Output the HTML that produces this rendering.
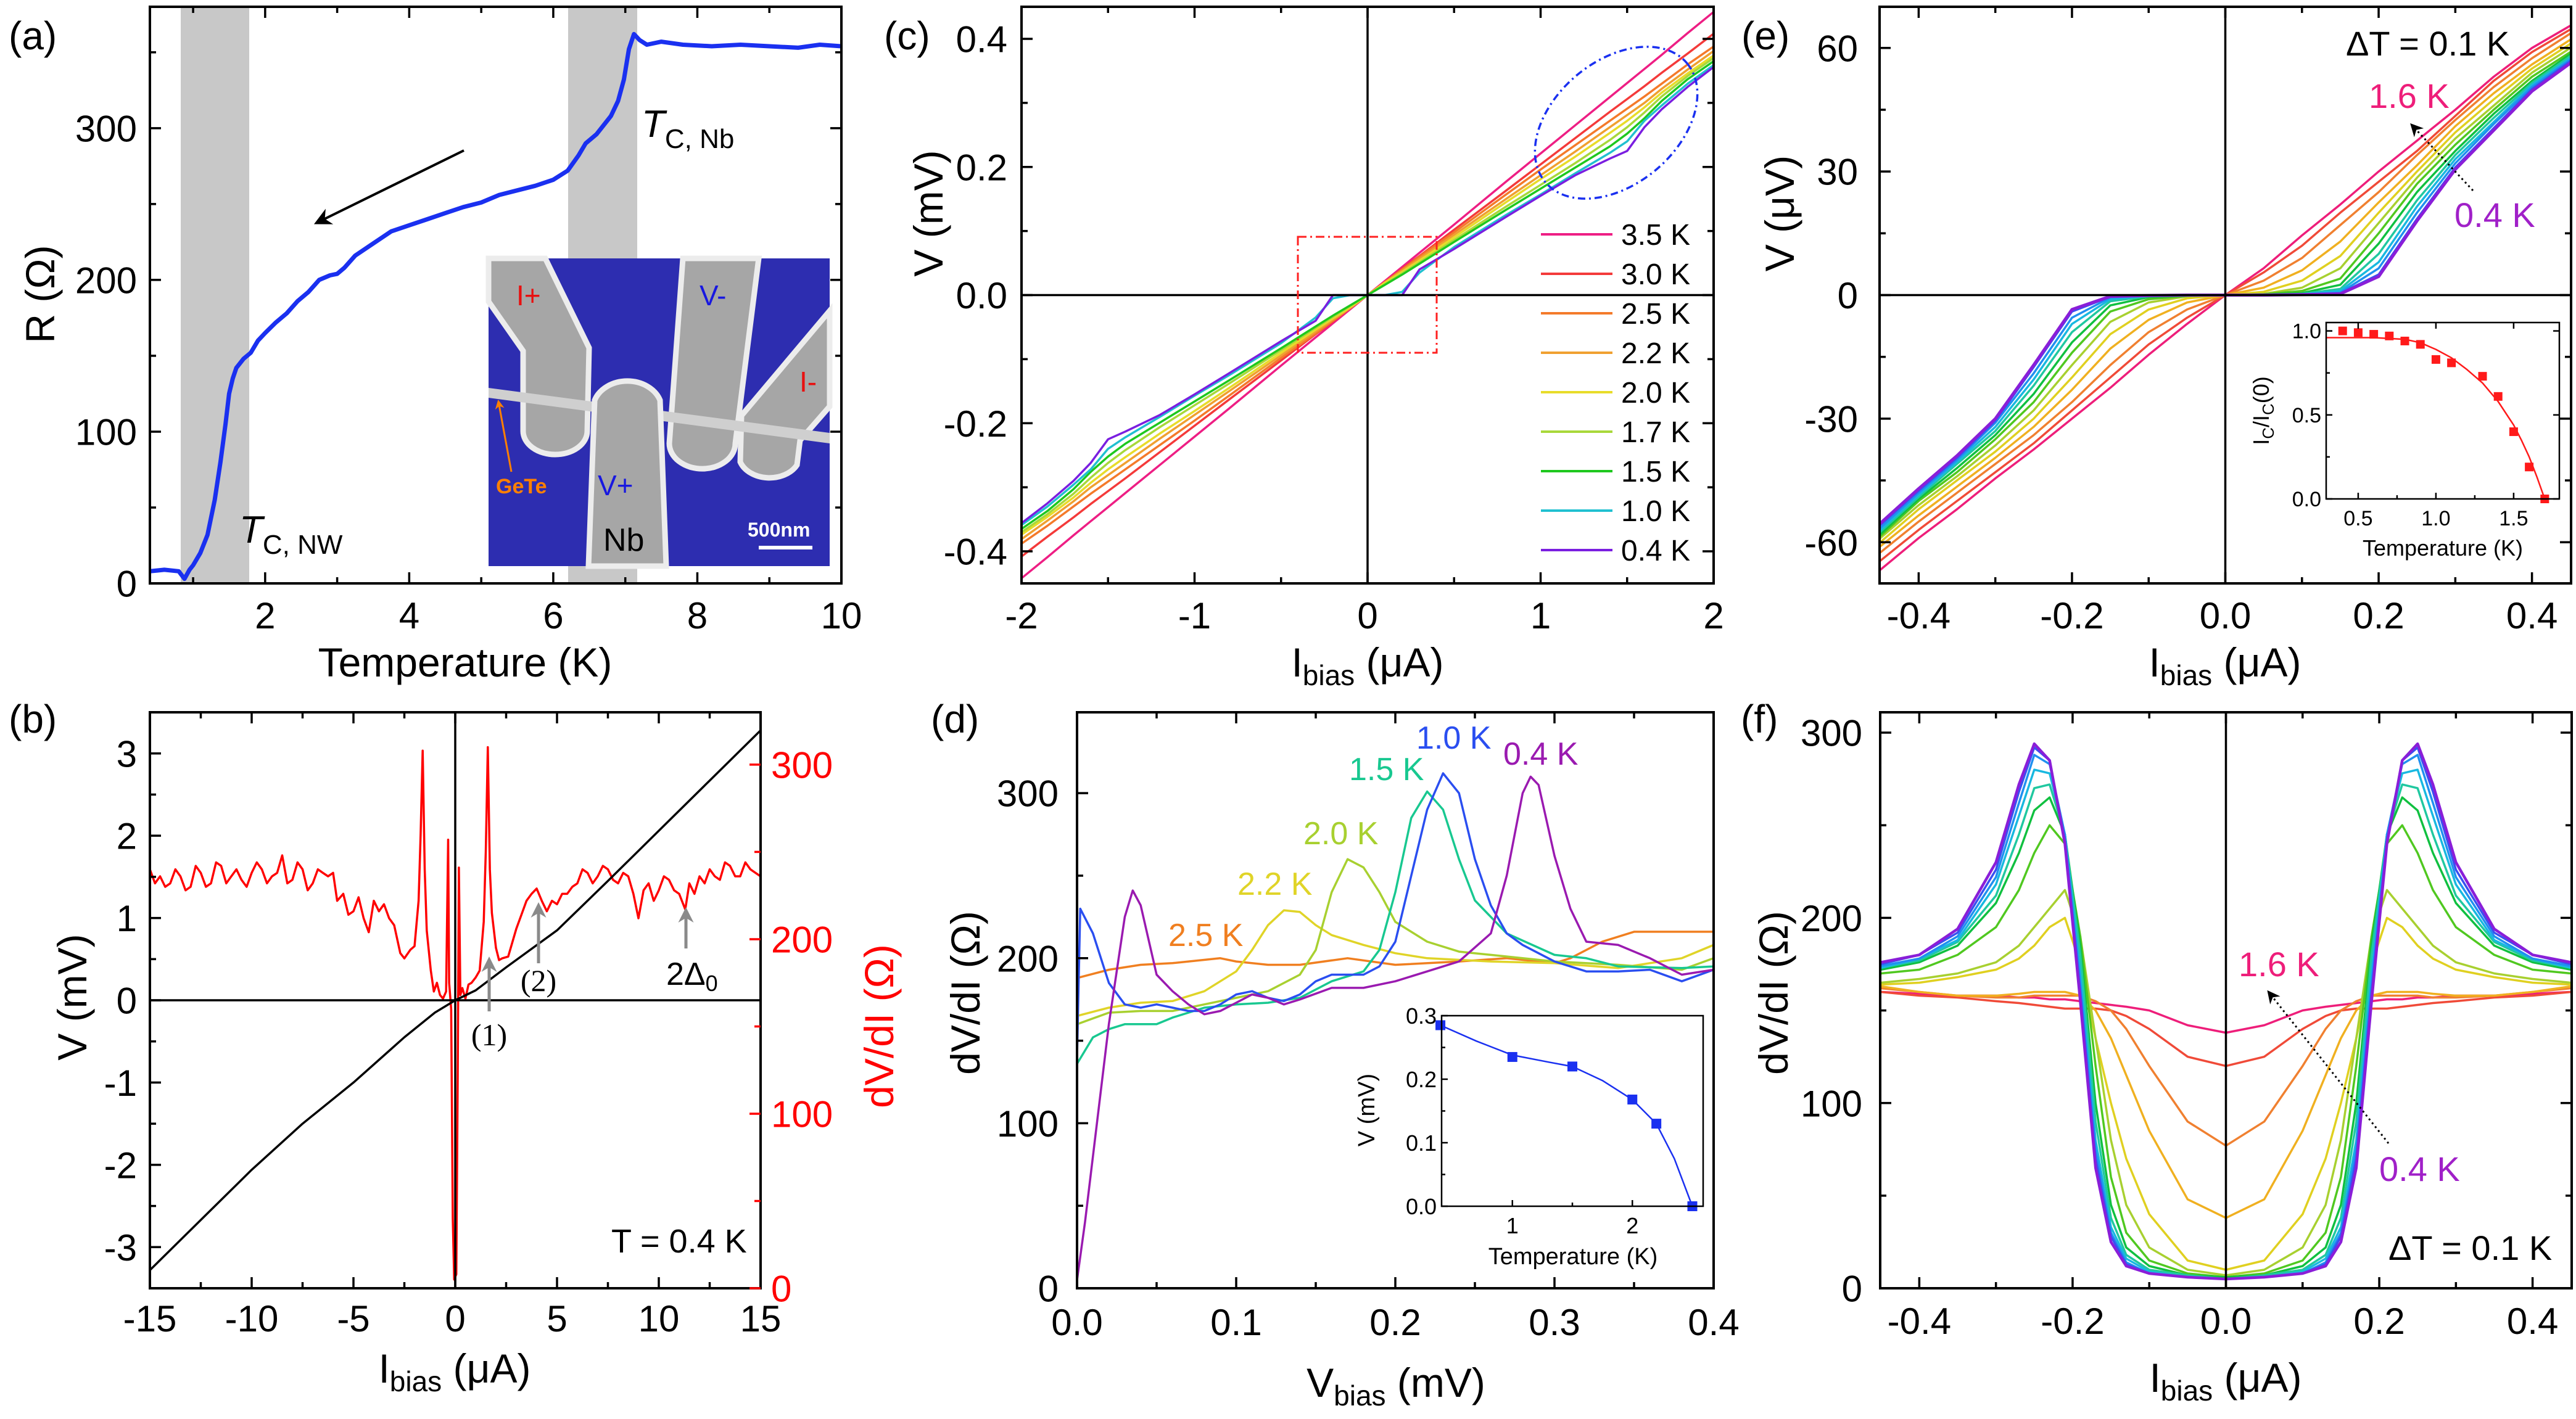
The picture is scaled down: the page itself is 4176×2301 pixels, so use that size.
<!DOCTYPE html>
<html><head><meta charset="utf-8"><title>Figure</title>
<style>
html,body{margin:0;padding:0;background:#fff;}
svg{display:block;font-family:"Liberation Sans",sans-serif;}
</style></head>
<body>
<svg id="fig" xmlns="http://www.w3.org/2000/svg" width="4176" height="2301" viewBox="0 0 4176 2301">
<defs>
<marker id="arrB" viewBox="0 0 10 10" refX="8" refY="5" markerWidth="7" markerHeight="7" orient="auto"><path d="M0,0 L10,5 L0,10 L3,5 Z" fill="#000"/></marker>
<marker id="arrG" viewBox="0 0 10 10" refX="8" refY="5" markerWidth="5" markerHeight="5" orient="auto"><path d="M0,0 L10,5 L0,10 L3,5 Z" fill="#8a8a8a"/></marker>
<marker id="arrO" viewBox="0 0 10 10" refX="8" refY="5" markerWidth="5" markerHeight="5" orient="auto"><path d="M0,0 L10,5 L0,10 L3,5 Z" fill="#ff8000"/></marker>
</defs>
<rect x="0" y="0" width="4176" height="2301" fill="#fff"/>
<g id="bg-layer">
<rect x="293" y="11" width="111" height="935" fill="#c8c8c8"/>
<rect x="921" y="11" width="112" height="935" fill="#c8c8c8"/>
</g>
<g id="marks"></g>
<g id="axes"></g>

<!-- inset SEM image panel a -->
<g transform="translate(792,419)">
<rect x="0" y="0" width="553" height="499" fill="#2d2db0"/>
<path d="M0 0 L92 0 L163 145 L160 280 A52 38 0 0 1 56 280 L56 150 L0 70 Z" fill="#a6a6a6" stroke="#ececec" stroke-width="9"/>
<path d="M315 0 L438 0 L400 300 A52 40 0 0 1 293 300 Z" fill="#a6a6a6" stroke="#ececec" stroke-width="9"/>
<path d="M553 85 L553 240 L505 295 L500 335 A50 38 0 0 1 408 330 L410 255 Z" fill="#a6a6a6" stroke="#ececec" stroke-width="9"/>
<path d="M0 210 L553 283 L553 300 L0 226 Z" fill="#cfcfcf"/>
<path d="M162 499 L172 230 A56 46 0 0 1 278 230 L288 499 Z" fill="#a6a6a6" stroke="#ececec" stroke-width="9"/>
<text x="45" y="76" font-size="46" fill="#e81010">I+</text>
<text x="342" y="76" font-size="46" fill="#1818e0">V-</text>
<text x="504" y="216" font-size="46" fill="#e81010">I-</text>
<text x="177" y="384" font-size="46" fill="#1818e0">V+</text>
<text x="186" y="474" font-size="52" fill="#000">Nb</text>
<text x="12" y="381" font-size="34" font-weight="bold" fill="#ff8000">GeTe</text>
<line x1="37" y1="346" x2="16" y2="232" stroke="#ff8000" stroke-width="3" marker-end="url(#arrO)"/>
<text x="420" y="451" font-size="32" font-weight="bold" fill="#fff">500nm</text>
<rect x="438" y="466" width="87" height="6" fill="#fff"/>
</g>

<!-- panel labels & annotations -->
<g font-size="64">
<text x="14" y="80">(a)</text>
<text x="14" y="1188">(b)</text>
<text x="1433" y="80">(c)</text>
<text x="1509" y="1188">(d)</text>
<text x="2823" y="80">(e)</text>
<text x="2822" y="1188">(f)</text>
</g>
<g font-size="66" text-anchor="middle">
<text x="754" y="1097">Temperature (K)</text>
<text transform="translate(88,477) rotate(-90)">R (Ω)</text>
<text x="737" y="2242">I<tspan font-size="46" dy="14">bias</tspan><tspan dy="-14"> (μA)</tspan></text>
<text transform="translate(140,1617) rotate(-90)">V (mV)</text>
<text transform="translate(1448,1664) rotate(-90)" fill="#ff0000">dV/dI (Ω)</text>
<text x="2217" y="1097">I<tspan font-size="46" dy="14">bias</tspan><tspan dy="-14"> (μA)</tspan></text>
<text transform="translate(1528,346) rotate(-90)">V (mV)</text>
<text x="2263" y="2265">V<tspan font-size="46" dy="14">bias</tspan><tspan dy="-14"> (mV)</tspan></text>
<text transform="translate(1588,1610) rotate(-90)">dV/dI (Ω)</text>
<text x="3607" y="1097">I<tspan font-size="46" dy="14">bias</tspan><tspan dy="-14"> (μA)</tspan></text>
<text transform="translate(2908,346) rotate(-90)">V (μV)</text>
<text x="3608" y="2257">I<tspan font-size="46" dy="14">bias</tspan><tspan dy="-14"> (μA)</tspan></text>
<text transform="translate(2898,1610) rotate(-90)">dV/dI (Ω)</text>
</g>
<g>
<line x1="752" y1="244" x2="514" y2="361" stroke="#000" stroke-width="4" marker-end="url(#arrB)"/>
<text x="1040" y="222" font-size="62"><tspan font-style="italic">T</tspan><tspan font-size="44" dy="18">C, Nb</tspan></text>
<text x="388" y="880" font-size="62"><tspan font-style="italic">T</tspan><tspan font-size="44" dy="18">C, NW</tspan></text>
<line x1="793" y1="1640" x2="793" y2="1556" stroke="#8a8a8a" stroke-width="5" marker-end="url(#arrG)"/>
<text x="793" y="1695" font-size="50" font-family="Liberation Serif, serif" text-anchor="middle">(1)</text>
<line x1="873" y1="1562" x2="873" y2="1468" stroke="#8a8a8a" stroke-width="5" marker-end="url(#arrG)"/>
<text x="873" y="1607" font-size="50" font-family="Liberation Serif, serif" text-anchor="middle">(2)</text>
<line x1="1112" y1="1538" x2="1112" y2="1476" stroke="#8a8a8a" stroke-width="5" marker-end="url(#arrG)"/>
<text x="1080" y="1597" font-size="52">2Δ<tspan font-size="36" dy="10">0</tspan></text>
<text x="991" y="2031" font-size="54">T = 0.4 K</text>
<rect x="2104" y="384" width="225" height="188" fill="none" stroke="#ff2020" stroke-width="3" stroke-dasharray="14,6,3,6"/>
<ellipse cx="2620" cy="199" rx="150" ry="100" transform="rotate(-40 2620 199)" fill="none" stroke="#1a30f0" stroke-width="3.5" stroke-dasharray="12,6,3,6"/>
<text x="3803" y="90" font-size="56">ΔT = 0.1 K</text>
<text x="3840" y="175" font-size="56" fill="#ee1e7a">1.6 K</text>
<text x="3979" y="368" font-size="56" fill="#a020c8">0.4 K</text>
<line x1="4009" y1="309" x2="3910" y2="203" stroke="#000" stroke-width="3" stroke-dasharray="3,5" marker-end="url(#arrB)"/>
<text x="3629" y="1583" font-size="56" fill="#ee1e7a">1.6 K</text>
<text x="3857" y="1915" font-size="56" fill="#a020c8">0.4 K</text>
<text x="3872" y="2043" font-size="56">ΔT = 0.1 K</text>
<line x1="3872" y1="1854" x2="3678" y2="1609" stroke="#000" stroke-width="3" stroke-dasharray="3,5" marker-end="url(#arrB)"/>
<g font-size="52">
<text x="2296" y="1214" fill="#2a4ef0">1.0 K</text>
<text x="2437" y="1240" fill="#9a1ab0">0.4 K</text>
<text x="2187" y="1265" fill="#18c890">1.5 K</text>
<text x="2113" y="1369" fill="#a8d030">2.0 K</text>
<text x="2006" y="1451" fill="#e0d428">2.2 K</text>
<text x="1894" y="1534" fill="#f07f20">2.5 K</text>
</g>
</g>
<g id="insets"></g>
</svg>
<script>
// ---------------- data ----------------
// panel a: R(T)
const aT = [0.4,0.6,0.8,0.88,0.95,1.0,1.1,1.2,1.3,1.38,1.45,1.5,1.55,1.6,1.7,1.8,1.9,2.0,2.15,2.3,2.45,2.6,2.75,2.9,3.0,3.1,3.25,3.5,3.75,4.0,4.25,4.5,4.75,5.0,5.25,5.5,5.75,6.0,6.2,6.35,6.45,6.6,6.8,6.9,6.98,7.05,7.12,7.2,7.3,7.5,7.8,8.2,8.6,9.0,9.4,9.7,10.0];
const aR = [8,9,8,3,9,12,20,32,55,80,105,125,135,142,148,152,160,165,172,178,186,192,200,203,204,208,216,224,232,236,240,244,248,251,256,259,262,266,272,282,290,296,308,318,332,352,362,358,355,357,355,354,355,354,353,355,354];
// panel b
const bIV = [[-15,-3.28],[-12.5,-2.67],[-10,-2.06],[-7.5,-1.5],[-5,-1.0],[-2.5,-0.45],[-1,-0.15],[0,0],[1,0.12],[2.5,0.4],[5,0.85],[7.5,1.45],[10,2.06],[12.5,2.67],[15,3.28]];
const bDVDI = [[-15,240],[-14.75,232],[-14.5,236],[-14.25,230],[-14,232],[-13.75,240],[-13.5,236],[-13.25,228],[-13,230],[-12.75,242],[-12.5,238],[-12.25,230],[-12,232],[-11.75,244],[-11.5,242],[-11.25,232],[-11,236],[-10.75,240],[-10.5,234],[-10.25,230],[-10,238],[-9.75,244],[-9.5,240],[-9.25,232],[-9,236],[-8.75,238],[-8.5,248],[-8.25,232],[-8,234],[-7.75,244],[-7.5,240],[-7.25,228],[-7,232],[-6.75,240],[-6.5,238],[-6.25,236],[-6,238],[-5.8,222],[-5.5,226],[-5.25,214],[-5,216],[-4.75,224],[-4.5,212],[-4.25,204],[-4,222],[-3.75,216],[-3.5,220],[-3.25,212],[-3,208],[-2.7,192],[-2.5,189],[-2.2,194],[-2,196],[-1.8,222],[-1.7,260],[-1.6,308],[-1.5,240],[-1.4,205],[-1.2,182],[-1.05,170],[-0.9,175],[-0.75,168],[-0.6,166],[-0.45,170],[-0.35,257],[-0.3,175],[-0.2,160],[-0.12,40],[-0.05,5],[0.05,8],[0.12,120],[0.18,241],[0.25,168],[0.35,172],[0.5,166],[0.65,174],[0.8,175],[1.0,178],[1.2,182],[1.4,210],[1.5,250],[1.6,310],[1.7,240],[1.8,215],[2.0,195],[2.15,188],[2.3,189],[2.6,190],[2.8,198],[3.0,206],[3.25,214],[3.5,222],[3.75,226],[4.0,229],[4.25,222],[4.5,216],[4.75,222],[5.0,220],[5.25,226],[5.5,226],[5.75,230],[6,232],[6.25,240],[6.5,238],[6.75,232],[7,236],[7.25,242],[7.5,240],[7.75,234],[8,232],[8.25,238],[8.5,236],[8.75,226],[9,212],[9.25,228],[9.5,232],[9.75,222],[10,228],[10.25,236],[10.5,234],[10.75,228],[11,226],[11.3,217],[11.5,232],[11.75,226],[12,236],[12.25,232],[12.5,240],[12.75,236],[13,234],[13.25,244],[13.5,242],[13.75,236],[14,236],[14.25,244],[14.5,240],[14.75,238],[15,236]];
// panel c
const cI = [0,0.1,0.2,0.3,0.5,0.8,1.0,1.2,1.4,1.5,1.6,1.7,1.85,2.0];
const cV35 = [0,0.022,0.044,0.066,0.11,0.177,0.221,0.265,0.309,0.331,0.353,0.375,0.409,0.442];
const cV30 = [0,0.02,0.041,0.061,0.102,0.163,0.204,0.245,0.286,0.306,0.326,0.347,0.377,0.408];
const cV25 = [0,0.02,0.04,0.06,0.098,0.157,0.196,0.234,0.272,0.291,0.31,0.33,0.36,0.388];
const cV22 = [0,0.02,0.038,0.057,0.094,0.15,0.187,0.224,0.262,0.281,0.3,0.322,0.352,0.381];
const cV20 = [0,0.019,0.036,0.054,0.09,0.145,0.181,0.216,0.253,0.272,0.293,0.316,0.346,0.374];
const cV17 = [0,0.017,0.034,0.051,0.086,0.138,0.172,0.206,0.242,0.262,0.285,0.31,0.342,0.370];
const cV15 = [0,0.016,0.032,0.049,0.083,0.133,0.166,0.199,0.232,0.252,0.276,0.303,0.337,0.365];
const cV10 = [0,0,0.005,0.035,0.075,0.125,0.157,0.19,0.222,0.24,0.272,0.296,0.33,0.359];
const cV04 = [0,0,0,0.04,0.072,0.122,0.155,0.187,0.213,0.225,0.262,0.29,0.325,0.356];
const cLegend = ['3.5 K','3.0 K','2.5 K','2.2 K','2.0 K','1.7 K','1.5 K','1.0 K','0.4 K'];
// panel d
const dV40 = [[0,5],[0.005,40],[0.01,80],[0.02,160],[0.03,225],[0.035,241],[0.04,232],[0.05,190],[0.06,180],[0.07,172],[0.08,166],[0.09,168],[0.1,173],[0.11,178],[0.12,176],[0.13,172],[0.14,175],[0.16,182],[0.18,182],[0.2,186],[0.22,192],[0.24,198],[0.26,215],[0.27,250],[0.28,300],[0.285,310],[0.29,305],[0.3,262],[0.31,230],[0.32,210],[0.34,208],[0.36,200],[0.38,190],[0.4,193]];
const dV10 = [[0,140],[0.002,230],[0.01,215],[0.02,185],[0.03,172],[0.04,170],[0.05,172],[0.06,170],[0.07,168],[0.08,168],[0.09,172],[0.1,178],[0.11,180],[0.12,176],[0.13,174],[0.14,178],[0.15,186],[0.16,190],[0.18,190],[0.19,195],[0.2,210],[0.21,250],[0.22,290],[0.23,312],[0.24,300],[0.25,260],[0.26,232],[0.27,215],[0.28,208],[0.3,198],[0.32,192],[0.34,192],[0.36,193],[0.38,186],[0.4,193]];
const dV15 = [[0,136],[0.01,152],[0.02,157],[0.03,160],[0.05,160],[0.06,164],[0.08,170],[0.1,172],[0.12,173],[0.14,176],[0.16,186],[0.18,192],[0.19,205],[0.2,240],[0.21,285],[0.22,301],[0.23,290],[0.24,260],[0.25,235],[0.27,215],[0.3,202],[0.32,200],[0.34,195],[0.38,194],[0.4,195]];
const dV20 = [[0,160],[0.02,167],[0.04,168],[0.06,168],[0.08,172],[0.1,176],[0.12,180],[0.14,190],[0.15,205],[0.16,240],[0.17,260],[0.18,255],[0.19,240],[0.2,222],[0.22,210],[0.24,204],[0.26,202],[0.3,198],[0.34,196],[0.38,193],[0.4,200]];
const dV22 = [[0,165],[0.02,170],[0.04,173],[0.06,174],[0.08,180],[0.1,192],[0.11,205],[0.12,220],[0.13,229],[0.14,228],[0.15,220],[0.16,214],[0.18,208],[0.2,203],[0.22,200],[0.26,198],[0.3,197],[0.34,194],[0.38,200],[0.4,208]];
const dV25 = [[0,188],[0.02,193],[0.04,196],[0.06,197],[0.09,200],[0.1,198],[0.12,196],[0.14,196],[0.17,200],[0.2,196],[0.24,198],[0.27,200],[0.3,197],[0.31,200],[0.33,210],[0.35,216],[0.37,216],[0.4,216]];
const dInsetT = [0.4,1.0,1.5,2.0,2.2,2.5];
const dInsetV = [0.285,0.235,0.22,0.168,0.13,0.0];
const dFitT = [0.4,0.7,1.0,1.3,1.5,1.75,2.0,2.2,2.35,2.5];
const dFitV = [0.285,0.26,0.238,0.227,0.22,0.198,0.168,0.13,0.075,0];
// panel e
const eI = [-0.45,-0.4,-0.35,-0.3,-0.25,-0.2,-0.15,-0.1,-0.05,0,0.05,0.1,0.15,0.2,0.25,0.3,0.35,0.4,0.45];
const eV04 = [-55.4,-47,-39,-30,-17,-3.5,-0.3,-0.1,0,0,0,0.1,0.3,4.5,18,30.5,40,49.5,56.3];
const eV05 = [-55.8,-47.5,-39.5,-30.5,-17.5,-4,-0.4,-0.1,0,0,0,0.1,0.4,5,18.5,31,40.5,50,56.8];
const eV06 = [-56.5,-48,-40,-31,-19,-5.5,-0.6,-0.1,0,0,0,0.1,0.6,6.5,20,32,41.5,50.5,57.2];
const eV07 = [-57,-48.5,-40.5,-32,-20.5,-7,-1,-0.2,0,0,0,0.2,1,8,21.5,33,42,51,57.5];
const eV08 = [-57.5,-49,-41,-33,-22,-9,-1.5,-0.3,0,0,0,0.3,1.5,10,23,34,43,51.5,58];
const eV09 = [-58,-49.5,-42,-34,-24,-11.5,-2.5,-0.5,-0.1,0,0.1,0.5,2.5,12.5,25,35,44,52,58.5];
const eV10 = [-58.5,-50,-43,-35,-26,-14,-4,-1,-0.2,0,0.2,1,4,15,27,36.5,45,53,59];
const eV11 = [-59,-51,-44,-36.5,-28,-17,-6.5,-1.8,-0.3,0,0.3,1.8,6.5,17.5,28.5,38,46,54,60];
const eV12 = [-60,-52,-45,-38,-30,-20,-9.5,-3.5,-0.8,0,0.8,3.5,9.5,20,30,39.5,47.5,55,61];
const eV13 = [-61,-53.5,-46.5,-39.5,-32,-23,-13,-6,-1.8,0,1.8,6,13,22.5,31.5,41,49,56,62];
const eV14 = [-62.5,-55,-48,-41,-34,-26,-17,-9,-3.5,0,3.5,9,17,25,34,42.5,50.5,57.5,63.5];
const eV15 = [-64.5,-57,-50,-43,-36,-28,-20,-12,-5.5,0,5.5,12,20,27.5,35,43.5,52,59,64.5];
const eV16 = [-66.7,-59,-52,-44.5,-37.5,-30,-22.5,-14.5,-7,0,6.5,14.5,22,30,37.5,45,53,60,65.4];
const eInsetT = [0.4,0.5,0.6,0.7,0.8,0.9,1.0,1.1,1.3,1.4,1.5,1.6,1.7];
const eInsetR = [1.0,0.99,0.98,0.97,0.94,0.92,0.83,0.81,0.73,0.61,0.40,0.19,0.0];
const eFitT = [0.3,0.6,0.8,0.9,1.0,1.1,1.2,1.3,1.4,1.5,1.55,1.6,1.65,1.7];
const eFitR = [0.96,0.96,0.95,0.93,0.89,0.84,0.77,0.69,0.58,0.44,0.35,0.25,0.13,0];
// panel f (positive side; mirrored for negative bias)
const fI = [0,0.05,0.1,0.13,0.15,0.17,0.19,0.21,0.23,0.25,0.27,0.3,0.35,0.4,0.45];
const fR04 = [5,6,8,12,25,65,155,240,285,294,272,230,194,180,176];
const fR05 = [5,6,8,13,28,70,160,242,285,292,268,226,192,180,175];
const fR06 = [5,6,8,14,30,75,165,245,283,288,262,222,190,178,174];
const fR07 = [5,6,9,16,33,80,170,245,278,280,255,218,188,178,173];
const fR08 = [5,7,10,18,38,90,180,245,272,270,245,212,187,177,173];
const fR09 = [6,7,12,22,45,100,185,245,265,258,235,208,185,176,172];
const fR10 = [6,8,15,30,60,120,190,240,250,235,215,195,180,172,170];
const fR11 = [7,10,22,45,80,135,190,215,205,195,185,176,170,167,165];
const fR12 = [10,15,40,70,100,135,175,200,195,185,178,172,168,165,164];
const fR13 = [38,48,85,115,135,150,158,160,160,160,159,158,158,160,163];
const fR14 = [77,90,120,140,150,155,158,158,158,158,157,157,158,160,162];
const fR15 = [120,125,140,147,150,151,151,151,152,153,154,155,157,158,160];
const fR16 = [138,142,150,152,153,154,155,156,156,157,157,158,158,159,160];

// ---------------- helpers ----------------
const NS = 'http://www.w3.org/2000/svg';
const svg = document.getElementById('fig');
const marks = document.getElementById('marks');
const axG = document.getElementById('axes');
const insG = document.getElementById('insets');
function el(tag, attrs, parent, name) {
  const e = document.createElementNS(NS, tag);
  for (const k in attrs) e.setAttribute(k, attrs[k]);
  
  
  parent.appendChild(e);
  return e;
}
function axes(L, R, T, B, x0, x1, y0, y1) {
  return {L, R, T, B, sx: v => L + (v - x0) / (x1 - x0) * (R - L), sy: v => B - (v - y0) / (y1 - y0) * (B - T)};
}
function frame(a, name, w) {
  el('rect', {x: a.L, y: a.T, width: a.R - a.L, height: a.B - a.T, fill: 'none', stroke: '#000', 'stroke-width': w || 4}, axG, name);
}
function xticks(a, vals, len, top, name, col) {
  vals.forEach(v => {
    const x = a.sx(v);
    el('line', {x1: x, x2: x, y1: a.B, y2: a.B - len, stroke: col || '#000', 'stroke-width': 3.5}, axG, name);
    if (top) el('line', {x1: x, x2: x, y1: a.T, y2: a.T + len, stroke: col || '#000', 'stroke-width': 3.5}, axG, name + '-top');
  });
}
function yticks(a, vals, len, left, right, name, col, ay) {
  const sy = ay || a;
  vals.forEach(v => {
    const y = sy.sy(v);
    if (left) el('line', {x1: a.L, x2: a.L + len, y1: y, y2: y, stroke: col || '#000', 'stroke-width': 3.5}, axG, name);
    if (right) el('line', {x1: a.R, x2: a.R - len, y1: y, y2: y, stroke: col || '#000', 'stroke-width': 3.5}, axG, name + '-right');
  });
}
function xlabels(a, vals, labels, y, size, name) {
  vals.forEach((v, i) => {
    const t = el('text', {x: a.sx(v), y: y, 'font-size': size, 'text-anchor': 'middle'}, axG, name);
    t.textContent = labels[i];
  });
}
function ylabels(a, vals, labels, x, size, name, col, anchor) {
  vals.forEach((v, i) => {
    const t = el('text', {x: x, y: a.sy(v) + size * 0.36, 'font-size': size, 'text-anchor': anchor || 'end', fill: col || '#000'}, axG, name);
    t.textContent = labels[i];
  });
}
function poly(a, xs, ys, color, w, name, parent) {
  const pts = xs.map((x, i) => a.sx(x).toFixed(1) + ',' + a.sy(ys[i]).toFixed(1)).join(' ');
  return el('polyline', {points: pts, fill: 'none', stroke: color, 'stroke-width': w, 'stroke-linejoin': 'round', 'stroke-linecap': 'round'}, parent || marks, name);
}
function pairs(a, p, color, w, name, parent) {
  return poly(a, p.map(q => q[0]), p.map(q => q[1]), color, w, name, parent);
}
function hline(a, v, name) { el('line', {x1: a.L, x2: a.R, y1: a.sy(v), y2: a.sy(v), stroke: '#000', 'stroke-width': 3.5}, axG, name); }
function vline(a, v, name) { el('line', {x1: a.sx(v), x2: a.sx(v), y1: a.T, y2: a.B, stroke: '#000', 'stroke-width': 3.5}, axG, name); }
function clip(a, id) {
  const d = svg.querySelector('defs');
  const c = el('clipPath', {id: id}, d, id);
  el('rect', {x: a.L, y: a.T, width: a.R - a.L, height: a.B - a.T}, c, id + '-rect');
  const g = el('g', {'clip-path': 'url(#' + id + ')'}, marks, id + '-group');
  return g;
}
const TS = 60, MJ = 18, MN = 10;

// ---------------- panel a ----------------
const A = axes(243, 1364, 11, 946, 0.4, 10, 0, 380);
const gA = clip(A, 'clip-a');
poly(A, aT, aR, '#1a30f0', 7, 'resistance-curve', gA);
frame(A, 'a-plot-frame');
xticks(A, [2,4,6,8,10], MJ, true, 'a-x-major-tick');
xticks(A, [1,3,5,7,9], MN, true, 'a-x-minor-tick');
yticks(A, [0,100,200,300], MJ, true, true, 'a-y-major-tick');
yticks(A, [50,150,250,350], MN, true, true, 'a-y-minor-tick');
xlabels(A, [2,4,6,8,10], ['2','4','6','8','10'], 1019, TS, 'a-x-tick-label');
ylabels(A, [0,100,200,300], ['0','100','200','300'], 222, TS, 'a-y-tick-label');

// ---------------- panel b ----------------
const B = axes(243, 1233, 1155, 2089, -15, 15, -3.5, 3.5);
const BR = axes(243, 1233, 1155, 2089, -15, 15, 0, 330);
const gB = clip(B, 'clip-b');
hline(B, 0, 'b-zero-line');
vline(B, 0, 'b-zero-vline');
pairs(BR, bDVDI, '#ff0000', 3.5, 'dvdi-curve', gB);
pairs(B, bIV, '#000', 3.5, 'iv-curve', gB);
frame(B, 'b-plot-frame');
xticks(B, [-15,-10,-5,0,5,10,15], MJ, true, 'b-x-major-tick');
xticks(B, [-12.5,-7.5,-2.5,2.5,7.5,12.5], MN, true, 'b-x-minor-tick');
yticks(B, [-3,-2,-1,0,1,2,3], MJ, true, false, 'b-y-major-tick');
yticks(B, [-2.5,-1.5,-0.5,0.5,1.5,2.5], MN, true, false, 'b-y-minor-tick');
yticks(B, [0,100,200,300], MJ, false, true, 'b-right-major-tick', '#ff0000', BR);
yticks(B, [50,150,250], MN, false, true, 'b-right-minor-tick', '#ff0000', BR);
xlabels(B, [-15,-10,-5,0,5,10,15], ['-15','-10','-5','0','5','10','15'], 2159, TS, 'b-x-tick-label');
ylabels(B, [-3,-2,-1,0,1,2,3], ['-3','-2','-1','0','1','2','3'], 222, TS, 'b-y-tick-label');
ylabels(BR, [0,100,200,300], ['0','100','200','300'], 1250, TS, 'b-right-tick-label', '#ff0000', 'start');

// ---------------- panel c ----------------
const C = axes(1656, 2778, 11, 946, -2, 2, -0.45, 0.45);
const gC = clip(C, 'clip-c');
hline(C, 0, 'c-zero-line');
vline(C, 0, 'c-zero-vline');
const cSeries = [cV35, cV30, cV25, cV22, cV20, cV17, cV15, cV10, cV04];
const cColors = ['#ee1e84', '#f43a3a', '#f47a2a', '#f0a030', '#e8dc2a', '#a8d83a', '#1ec81e', '#20c0d0', '#7a1ee0'];
cSeries.forEach((s, i) => {
  const xs = cI.slice().reverse().map(v => -v).concat(cI.slice(1));
  const ys = s.slice().reverse().map(v => -v).concat(s.slice(1));
  const pl = poly(C, xs, ys, cColors[i], 3.5, 'iv-curve', gC);
  
});
frame(C, 'c-plot-frame');
xticks(C, [-2,-1,0,1,2], MJ, true, 'c-x-major-tick');
xticks(C, [-1.5,-0.5,0.5,1.5], MN, true, 'c-x-minor-tick');
yticks(C, [-0.4,-0.2,0,0.2,0.4], MJ, true, true, 'c-y-major-tick');
yticks(C, [-0.3,-0.1,0.1,0.3], MN, true, true, 'c-y-minor-tick');
xlabels(C, [-2,-1,0,1,2], ['-2','-1','0','1','2'], 1019, TS, 'c-x-tick-label');
ylabels(C, [-0.4,-0.2,0,0.2,0.4], ['-0.4','-0.2','0.0','0.2','0.4'], 1633, TS, 'c-y-tick-label');
cLegend.forEach((lab, i) => {
  const y = 380 + i * 64;
  el('line', {x1: 2498, x2: 2614, y1: y, y2: y, stroke: cColors[i], 'stroke-width': 4}, axG, 'legend-swatch');
  const t = el('text', {x: 2628, y: y + 17, 'font-size': 48}, axG, 'legend-entry');
  t.textContent = lab;
});

// ---------------- panel d ----------------
const D = axes(1746, 2778, 1155, 2089, 0, 0.4, 0, 349);
const gD = clip(D, 'clip-d');
const dSeries = [dV25, dV22, dV20, dV15, dV10, dV40];
const dColors = ['#f07f20', '#e0d428', '#a8d030', '#18c890', '#2a4ef0', '#9a1ab0'];
const dNames = ['dvdi-2p5k', 'dvdi-2p2k', 'dvdi-2p0k', 'dvdi-1p5k', 'dvdi-1p0k', 'dvdi-0p4k'];
dSeries.forEach((s, i) => {
  const pl = pairs(D, s, dColors[i], 3.5, 'dvdi-curve', gD);
  
});
frame(D, 'd-plot-frame');
xticks(D, [0,0.1,0.2,0.3,0.4], MJ, true, 'd-x-major-tick');
xticks(D, [0.05,0.15,0.25,0.35], MN, true, 'd-x-minor-tick');
yticks(D, [0,100,200,300], MJ, true, false, 'd-y-major-tick');
yticks(D, [50,150,250], MN, true, false, 'd-y-minor-tick');
xlabels(D, [0,0.1,0.2,0.3,0.4], ['0.0','0.1','0.2','0.3','0.4'], 2165, TS, 'd-x-tick-label');
ylabels(D, [0,100,200,300], ['0','100','200','300'], 1716, TS, 'd-y-tick-label');
// inset d
const DI = axes(2337, 2761, 1647, 1956, 0.41, 2.59, 0, 0.3);
el('rect', {x: DI.L, y: DI.T, width: DI.R - DI.L, height: DI.B - DI.T, fill: '#fff'}, insG, 'd-inset-background');
poly(DI, dFitT, dFitV, '#1a30f0', 2.5, 'd-inset-fit', insG);
dInsetT.forEach((t, i) => {
  el('rect', {x: DI.sx(t) - 8, y: DI.sy(dInsetV[i]) - 8, width: 16, height: 16, fill: '#1a30f0'}, insG, 'd-inset-point');
});
el('rect', {x: DI.L, y: DI.T, width: DI.R - DI.L, height: DI.B - DI.T, fill: 'none', stroke: '#000', 'stroke-width': 2.5}, insG, 'd-inset-frame');
[1, 2].forEach(v => { el('line', {x1: DI.sx(v), x2: DI.sx(v), y1: DI.B, y2: DI.B - 10, stroke: '#000', 'stroke-width': 2.5}, insG, 'd-inset-x-tick'); });
[1.5].forEach(v => { el('line', {x1: DI.sx(v), x2: DI.sx(v), y1: DI.B, y2: DI.B - 6, stroke: '#000', 'stroke-width': 2.5}, insG, 'd-inset-x-minor-tick'); });
[0, 0.1, 0.2, 0.3].forEach(v => { el('line', {x1: DI.L, x2: DI.L + 10, y1: DI.sy(v), y2: DI.sy(v), stroke: '#000', 'stroke-width': 2.5}, insG, 'd-inset-y-tick'); });
[0.05, 0.15, 0.25].forEach(v => { el('line', {x1: DI.L, x2: DI.L + 6, y1: DI.sy(v), y2: DI.sy(v), stroke: '#000', 'stroke-width': 2.5}, insG, 'd-inset-y-minor-tick'); });
[1, 2].forEach(v => { const t = el('text', {x: DI.sx(v), y: 2000, 'font-size': 36, 'text-anchor': 'middle'}, insG, 'd-inset-x-tick-label'); t.textContent = String(v); });
[0, 0.1, 0.2, 0.3].forEach(v => { const t = el('text', {x: DI.L - 8, y: DI.sy(v) + 13, 'font-size': 36, 'text-anchor': 'end'}, insG, 'd-inset-y-tick-label'); t.textContent = v.toFixed(1); });
{ const t = el('text', {x: 2550, y: 2050, 'font-size': 38, 'text-anchor': 'middle'}, insG, 'd-inset-x-title'); t.textContent = 'Temperature (K)'; }
{ const t = el('text', {x: 0, y: 0, 'font-size': 38, 'text-anchor': 'middle', transform: 'translate(2228,1800) rotate(-90)'}, insG, 'd-inset-y-title'); t.textContent = 'V (mV)'; }

// ---------------- panel e ----------------
const E = axes(3047, 4168, 11, 946, -0.451, 0.451, -70, 70);
const gE = clip(E, 'clip-e');
hline(E, 0, 'e-zero-line');
vline(E, 0, 'e-zero-vline');
const efColors = ['#8a1ed8', '#3a50f0', '#2090f0', '#18b8e0', '#20c8a0', '#10c040', '#50c820', '#a8d030', '#e0d020', '#f0b020', '#f08030', '#f04a38', '#ee1e7a'];
const efTemps = ['0p4k','0p5k','0p6k','0p7k','0p8k','0p9k','1p0k','1p1k','1p2k','1p3k','1p4k','1p5k','1p6k'];
const eSeries = [eV04, eV05, eV06, eV07, eV08, eV09, eV10, eV11, eV12, eV13, eV14, eV15, eV16];
for (let i = eSeries.length - 1; i >= 0; i--) {
  const pl = poly(E, eI, eSeries[i], efColors[i], i === 0 ? 5 : 3.5, 'iv-curve', gE);
  
}
frame(E, 'e-plot-frame');
xticks(E, [-0.4,-0.2,0,0.2,0.4], MJ, true, 'e-x-major-tick');
xticks(E, [-0.3,-0.1,0.1,0.3], MN, true, 'e-x-minor-tick');
yticks(E, [-60,-30,0,30,60], MJ, true, true, 'e-y-major-tick');
yticks(E, [-45,-15,15,45], MN, true, true, 'e-y-minor-tick');
xlabels(E, [-0.4,-0.2,0,0.2,0.4], ['-0.4','-0.2','0.0','0.2','0.4'], 1019, TS, 'e-x-tick-label');
ylabels(E, [-60,-30,0,30,60], ['-60','-30','0','30','60'], 3012, TS, 'e-y-tick-label');
// inset e
const EI = axes(3771, 4149, 523, 809, 0.294, 1.794, 0, 1.05);
el('rect', {x: EI.L, y: EI.T, width: EI.R - EI.L, height: EI.B - EI.T, fill: '#fff'}, insG, 'e-inset-background');
poly(EI, eFitT, eFitR, '#ff1a1a', 2.5, 'e-inset-fit', insG);
eInsetT.forEach((t, i) => {
  el('rect', {x: EI.sx(t) - 7, y: EI.sy(eInsetR[i]) - 7, width: 14, height: 14, fill: '#ff1a1a'}, insG, 'e-inset-point');
});
el('rect', {x: EI.L, y: EI.T, width: EI.R - EI.L, height: EI.B - EI.T, fill: 'none', stroke: '#000', 'stroke-width': 2.5}, insG, 'e-inset-frame');
[0.5, 1.0, 1.5].forEach(v => { el('line', {x1: EI.sx(v), x2: EI.sx(v), y1: EI.B, y2: EI.B - 10, stroke: '#000', 'stroke-width': 2.5}, insG, 'e-inset-x-tick'); el('line', {x1: EI.sx(v), x2: EI.sx(v), y1: EI.T, y2: EI.T + 10, stroke: '#000', 'stroke-width': 2.5}, insG, 'e-inset-x-tick-top'); });
[0.75, 1.25].forEach(v => { el('line', {x1: EI.sx(v), x2: EI.sx(v), y1: EI.B, y2: EI.B - 6, stroke: '#000', 'stroke-width': 2.5}, insG, 'e-inset-x-minor-tick'); });
[0, 0.5, 1.0].forEach(v => { el('line', {x1: EI.L, x2: EI.L + 10, y1: EI.sy(v), y2: EI.sy(v), stroke: '#000', 'stroke-width': 2.5}, insG, 'e-inset-y-tick'); el('line', {x1: EI.R, x2: EI.R - 10, y1: EI.sy(v), y2: EI.sy(v), stroke: '#000', 'stroke-width': 2.5}, insG, 'e-inset-y-tick-right'); });
[0.25, 0.75].forEach(v => { el('line', {x1: EI.L, x2: EI.L + 6, y1: EI.sy(v), y2: EI.sy(v), stroke: '#000', 'stroke-width': 2.5}, insG, 'e-inset-y-minor-tick'); });
[0.5, 1.0, 1.5].forEach(v => { const t = el('text', {x: EI.sx(v), y: 852, 'font-size': 34, 'text-anchor': 'middle'}, insG, 'e-inset-x-tick-label'); t.textContent = v.toFixed(1); });
[0, 0.5, 1.0].forEach(v => { const t = el('text', {x: EI.L - 8, y: EI.sy(v) + 12, 'font-size': 34, 'text-anchor': 'end'}, insG, 'e-inset-y-tick-label'); t.textContent = v.toFixed(1); });
{ const t = el('text', {x: 3960, y: 901, 'font-size': 36, 'text-anchor': 'middle'}, insG, 'e-inset-x-title'); t.textContent = 'Temperature (K)'; }
{ const t = el('text', {x: 0, y: 0, 'font-size': 36, 'text-anchor': 'middle', transform: 'translate(3678,666) rotate(-90)'}, insG, 'e-inset-y-title'); t.innerHTML = 'I<tspan font-size="26" dy="8">C</tspan><tspan dy="-8">/I</tspan><tspan font-size="26" dy="8">C</tspan><tspan dy="-8">(0)</tspan>'; }

// ---------------- panel f ----------------
const F = axes(3048, 4169, 1155, 2089, -0.451, 0.451, 0, 311);
const gF = clip(F, 'clip-f');
vline(F, 0, 'f-zero-vline');
const fSeries = [fR04, fR05, fR06, fR07, fR08, fR09, fR10, fR11, fR12, fR13, fR14, fR15, fR16];
for (let i = fSeries.length - 1; i >= 0; i--) {
  const s = fSeries[i];
  const xs = fI.slice().reverse().map(v => -v).concat(fI.slice(1));
  const ys = s.slice().reverse().concat(s.slice(1));
  const pl = poly(F, xs, ys, efColors[i], i === 0 ? 4.5 : 3.5, 'dvdi-curve', gF);
  
}
frame(F, 'f-plot-frame');
xticks(F, [-0.4,-0.2,0,0.2,0.4], MJ, true, 'f-x-major-tick');
xticks(F, [-0.3,-0.1,0.1,0.3], MN, true, 'f-x-minor-tick');
yticks(F, [0,100,200,300], MJ, true, true, 'f-y-major-tick');
yticks(F, [50,150,250], MN, true, true, 'f-y-minor-tick');
xlabels(F, [-0.4,-0.2,0,0.2,0.4], ['-0.4','-0.2','0.0','0.2','0.4'], 2163, TS, 'f-x-tick-label');
ylabels(F, [0,100,200,300], ['0','100','200','300'], 3019, TS, 'f-y-tick-label');
</script>
</body></html>
